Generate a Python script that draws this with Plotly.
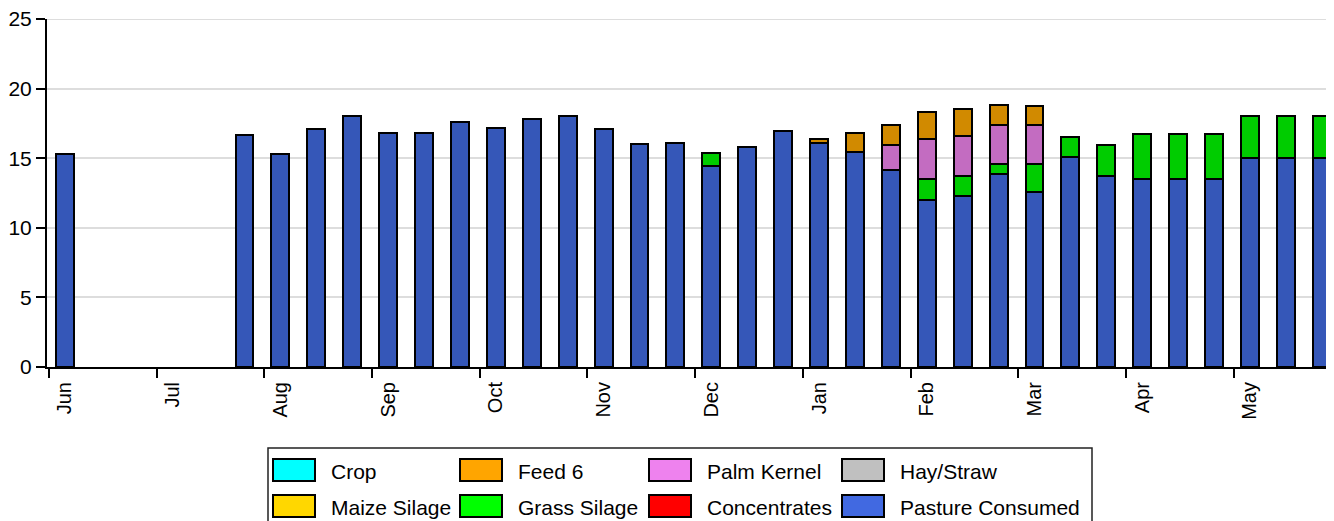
import plotly.graph_objects as go

# ---- data ----
months = ["Jun", "Jul", "Aug", "Sep", "Oct", "Nov", "Dec", "Jan", "Feb", "Mar", "Apr", "May"]
# 36 ten-day periods (3 per month), index 0 = Jun 1-10
period_index = list(range(36))

pasture = [15.3, None, None, None, None, 16.7, 15.3, 17.1, 18.0, 16.8, 16.8, 17.6,
           17.2, 17.8, 18.0, 17.1, 16.0, 16.1, 14.45, 15.8, 16.95, 16.1, 15.45, 14.15,
           12.0, 12.3, 13.9, 12.6, 15.1, 13.75, 13.5, 13.5, 13.5, 15.0, 15.0, 15.0]
grass_silage = [0, None, None, None, None, 0, 0, 0, 0, 0, 0, 0,
                0, 0, 0, 0, 0, 0, 0.9, 0, 0, 0, 0, 0,
                1.5, 1.4, 0.7, 2.0, 1.4, 2.2, 3.25, 3.25, 3.25, 3.05, 3.05, 3.05]
palm_kernel = [0, None, None, None, None, 0, 0, 0, 0, 0, 0, 0,
               0, 0, 0, 0, 0, 0, 0, 0, 0, 0, 0, 1.8,
               2.9, 2.9, 2.75, 2.75, 0, 0, 0, 0, 0, 0, 0, 0]
feed6 = [0, None, None, None, None, 0, 0, 0, 0, 0, 0, 0,
         0, 0, 0, 0, 0, 0, 0, 0, 0, 0.3, 1.35, 1.4,
         1.9, 1.9, 1.5, 1.4, 0, 0, 0, 0, 0, 0, 0, 0]
crop = [0, None, None, None, None, 0, 0, 0, 0, 0, 0, 0,
        0, 0, 0, 0, 0, 0, 0, 0, 0, 0, 0, 0,
        0, 0, 0, 0, 0, 0, 0, 0, 0, 0, 0, 0]
hay_straw = [0, None, None, None, None, 0, 0, 0, 0, 0, 0, 0,
             0, 0, 0, 0, 0, 0, 0, 0, 0, 0, 0, 0,
             0, 0, 0, 0, 0, 0, 0, 0, 0, 0, 0, 0]
maize_silage = [0, None, None, None, None, 0, 0, 0, 0, 0, 0, 0,
                0, 0, 0, 0, 0, 0, 0, 0, 0, 0, 0, 0,
                0, 0, 0, 0, 0, 0, 0, 0, 0, 0, 0, 0]
concentrates = [0, None, None, None, None, 0, 0, 0, 0, 0, 0, 0,
                0, 0, 0, 0, 0, 0, 0, 0, 0, 0, 0, 0,
                0, 0, 0, 0, 0, 0, 0, 0, 0, 0, 0, 0]
y_ticks = [0, 5, 10, 15, 20, 25]

# legend order (row-wise) and stacking order
legend_names = ["Crop", "Feed 6", "Palm Kernel", "Hay/Straw",
                "Maize Silage", "Grass Silage", "Concentrates", "Pasture Consumed"]
legend_colors = {"Crop": "#00FFFF", "Feed 6": "#FFA500", "Palm Kernel": "#EE82EE",
                 "Hay/Straw": "#C0C0C0", "Maize Silage": "#FFD700", "Grass Silage": "#00FF00",
                 "Concentrates": "#FF0000", "Pasture Consumed": "#4169E1"}
bar_colors = {"Crop": "#00CCCC", "Feed 6": "#D18A00", "Palm Kernel": "#C36CC1",
              "Hay/Straw": "#9A9A9A", "Maize Silage": "#CCAC00", "Grass Silage": "#00CC00",
              "Concentrates": "#CC0000", "Pasture Consumed": "#3557B8"}
stack = [("Pasture Consumed", pasture), ("Concentrates", concentrates),
         ("Grass Silage", grass_silage), ("Maize Silage", maize_silage),
         ("Hay/Straw", hay_straw), ("Palm Kernel", palm_kernel),
         ("Feed 6", feed6), ("Crop", crop)]

FONT = "Liberation Sans, Arial, sans-serif"
# page has an 8px body margin: figure sits at (8, 8) in the window
OFF = 8
W, H = 1334 - OFF, 521 - OFF
PL, PR, PT, PB = 47, 1334, 19, 367  # plot area in window pixels
L, T = PL - OFF, PT - OFF
R = W - (PR - OFF)
B = H - (PB - OFF)
pw, ph = PR - PL, PB - PT

def px(x):
    return (x - PL) / pw

def py(y):
    return (PB - y) / ph

fig = go.Figure()
for name, vals in stack:
    fig.add_trace(go.Bar(
        x=period_index, y=vals, name=name, width=0.5, offset=-0.3,
        marker=dict(color=bar_colors[name], line=dict(color="black", width=2)),
        showlegend=False))

# top gridline (plotly omits the gridline at the range edge)
shapes = [dict(type="line", xref="paper", yref="y", x0=0, x1=1, y0=y_ticks[-1], y1=y_ticks[-1],
               line=dict(color="#DDDDDD", width=2), layer="below")]
# manual legend
shapes.append(dict(type="rect", xref="paper", yref="paper",
                   x0=px(268), x1=px(1092), y0=py(448), y1=py(540),
                   line=dict(color="#222", width=1.5), fillcolor="white", layer="above"))
annotations = []
col_x = [273, 460, 649, 842]
row_y = [470, 506]
for k, name in enumerate(legend_names):
    cx = col_x[k % 4]
    cy = row_y[k // 4]
    shapes.append(dict(type="rect", xref="paper", yref="paper",
                       x0=px(cx), x1=px(cx + 42), y0=py(cy + 11), y1=py(cy - 11),
                       line=dict(color="black", width=2), fillcolor=legend_colors[name],
                       layer="above"))
    annotations.append(dict(xref="paper", yref="paper", x=px(cx + 56), y=py(cy + 1),
                            text=name, showarrow=False, xanchor="left", yanchor="middle",
                            font=dict(family=FONT, size=21, color="black")))

fig.update_layout(
    width=W, height=H, barmode="stack",
    margin=dict(l=L, r=R, t=T, b=B, autoexpand=False),
    plot_bgcolor="white", paper_bgcolor="white",
    font=dict(family=FONT, size=20, color="black"),
    shapes=shapes, annotations=annotations, bargap=0,
)
fig.update_xaxes(
    range=[-0.55, 35.29], showgrid=False, zeroline=False,
    showline=True, linecolor="black", linewidth=2,
    tickmode="array", tickvals=[3 * m - 0.05 for m in range(12)], ticktext=months,
    tickangle=-90, ticks="outside", ticklen=5, tickcolor="rgba(0,0,0,0)",
    tickfont=dict(family=FONT, size=20, color="black"),
    minor=dict(tickmode="array", tickvals=[3 * m - 0.5 for m in range(12)],
               ticks="outside", ticklen=9, tickwidth=2, tickcolor="black", showgrid=False),
)
fig.update_yaxes(
    range=[0, 25], tickmode="array", tickvals=y_ticks, ticktext=[str(v) for v in y_ticks],
    showgrid=True, gridcolor="#DDDDDD", gridwidth=2, zeroline=False,
    showline=True, linecolor="black", linewidth=2,
    ticks="outside", ticklen=9, tickwidth=2, tickcolor="black",
    ticklabeloverflow="allow",
    tickfont=dict(family=FONT, size=21, color="black"),
)

fig.write_html("out.html")
